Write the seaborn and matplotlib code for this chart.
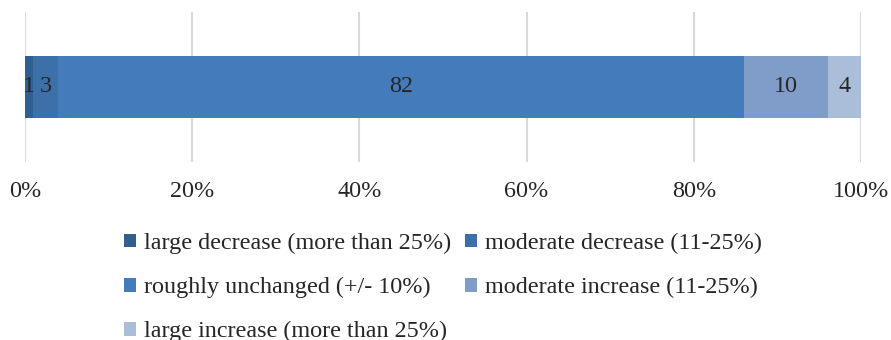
import matplotlib
matplotlib.use("Agg")
import matplotlib.pyplot as plt
import seaborn as sns
import pandas as pd
import numpy as np

categories = [
    "large decrease (more than 25%)",
    "moderate decrease (11-25%)",
    "roughly unchanged (+/- 10%)",
    "moderate increase (11-25%)",
    "large increase (more than 25%)",
]
values = [1, 3, 82, 10, 4]
colors = ["#31608F", "#3C70A8", "#447BBA", "#7F9DC8", "#AABDD9"]
tick_values = [0, 20, 40, 60, 80, 100]
tick_labels = ["0%", "20%", "40%", "60%", "80%", "100%"]

sns.set_theme(style="white")
plt.rcParams["font.family"] = ["Liberation Serif", "DejaVu Serif"]

fs = 17.4
text_color = "#262626"

cum = np.cumsum(values)
df = pd.DataFrame({"series": categories, "end": cum, "value": values, "row": [""] * len(values)})

fig = plt.figure(figsize=(8.91, 3.4), dpi=100)
ax = fig.add_axes([25 / 891, 1 - 162 / 340, (861 - 25) / 891, 150 / 340])

# stacked bar: draw cumulative totals from the outermost segment inward
for i in reversed(range(len(categories))):
    sub = df.iloc[[i]]
    sns.barplot(data=sub, x="end", y="row", color=colors[i], width=0.41,
                saturation=1, ax=ax, label=categories[i], orient="h",
                linewidth=0, edgecolor="none", zorder=3)

for i, (c, v) in enumerate(zip(cum, values)):
    ax.text(c - v / 2, 0, f"{v}", ha="center", va="center",
            fontsize=fs, color=text_color, zorder=4)

ax.set_xlim(0, 100)
ax.set_ylim(0.5, -0.5)
ax.set_xticks(tick_values)
ax.set_xticklabels(tick_labels, fontsize=fs, color=text_color)
ax.set_yticks([])
ax.set_xlabel("")
ax.set_ylabel("")
ax.tick_params(axis="x", length=0, pad=14)
ax.grid(axis="x", color="#D9D9D9", linewidth=1.5, zorder=0)
for s in ax.spines.values():
    s.set_visible(False)
if ax.legend_ is not None:
    ax.legend_.remove()

# legend entries filled row by row in two columns
handles, labels = ax.get_legend_handles_labels()
lookup = dict(zip(labels, handles))
order = [0, 2, 4, 1, 3]
fig.legend([lookup[categories[k]] for k in order], [categories[k] for k in order],
           ncol=2, loc="upper center", bbox_to_anchor=(0.497, 1 - 233 / 340),
           frameon=False, fontsize=fs, handlelength=0.5, handleheight=0.5,
           handletextpad=0.3, columnspacing=0.6, labelspacing=0.95,
           labelcolor=text_color, borderaxespad=0, borderpad=0)

fig.savefig("out.png", dpi=100)
